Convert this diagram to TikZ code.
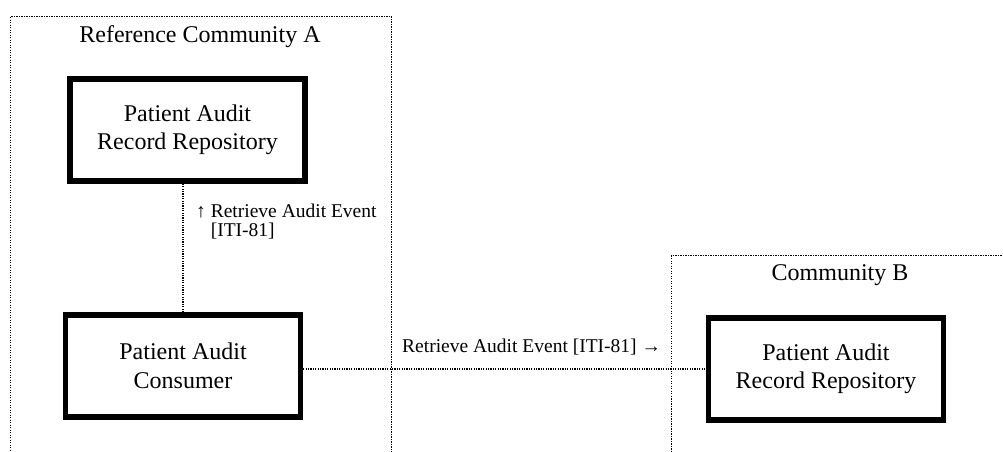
\documentclass[tikz,border=0pt]{standalone}
\usepackage{fontspec}
\setmainfont{Liberation Serif}
\begin{document}
\begin{tikzpicture}[x=1pt,y=-1pt,
  actor/.style={draw=black, line width=5.5pt, fill=white, align=center,
    minimum width=235pt, minimum height=102pt, inner sep=0pt,
    font=\fontsize{24}{28.5}\selectfont},
  commbox/.style={draw=black, line width=1.4pt, dash pattern=on 1.3pt off 1.2pt,
    inner sep=0pt, anchor=north west},
  title/.style={font=\fontsize{24}{28}\selectfont, anchor=base, inner sep=0pt},
  conn/.style={draw=black, line width=1.2pt, dash pattern=on 1.2pt off 1.2pt},
  lbl/.style={font=\fontsize{19.5}{19}\selectfont, align=left, inner sep=0pt, anchor=base west}
]
\useasboundingbox (0,0) rectangle (1003,452);
\clip (0,0) rectangle (1003,452);
\fill[white] (0,0) rectangle (1003,452);

% community containers
\node[commbox, minimum width=381pt, minimum height=470pt] (commA) at (10,16) {};
\node[commbox, minimum width=350pt, minimum height=230pt] (commB) at (671,255) {};
\node[title] (titleA) at (200,42) {Reference Community A};
\node[title] (titleB) at (840,280) {Community B};

% actors
\node[actor] (parrA) at (187.5,130) {Patient Audit\\Record Repository};
\node[actor] (cons) at (183,366) {Patient Audit\\Consumer};
\node[actor] (parrB) at (826,369) {Patient Audit\\Record Repository};

% connectors
\draw[conn] (cons.north) -- (cons.north |- parrA.south);
\draw[conn] (cons.east |- parrB.west) -- (parrB.west);

% labels
\node[lbl] (lblV) at (196,236) {↑ Retrieve Audit Event\\\phantom{↑ }[ITI-81]};
\node[lbl] (lblH) at (402,352) {Retrieve Audit Event [ITI-81] →};
\end{tikzpicture}
\end{document}
